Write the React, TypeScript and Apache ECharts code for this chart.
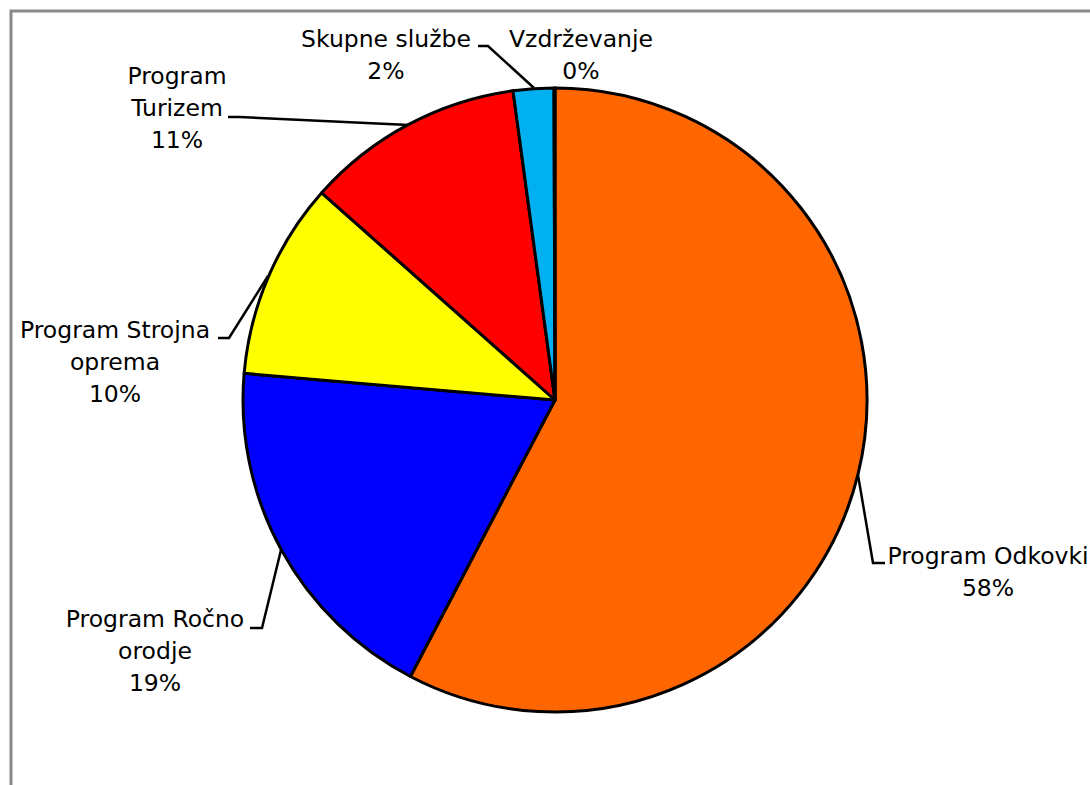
import React, { useEffect, useRef } from "react";
import * as echarts from "echarts";

const categories = [
  "Program Odkovki",
  "Program Ročno orodje",
  "Program Strojna oprema",
  "Program Turizem",
  "Skupne službe",
  "Vzdrževanje",
];
const wrappedNames = [
  "Program Odkovki",
  "Program Ročno\norodje",
  "Program Strojna\noprema",
  "Program\nTurizem",
  "Skupne službe",
  "Vzdrževanje",
];
const values = [57.7, 18.7, 10.2, 11.3, 2.1, 0.05];
const colors = ["#FF6600", "#0000FF", "#FFFF00", "#FF0000", "#00B0F0", "#9999FF"];

// label anchor positions (layout only)
const labelPos: [number, number][] = [
  [988, 572],
  [155, 651],
  [115, 362],
  [177, 108],
  [386, 55],
  [581, 55],
];
const leaderLines: ([number, number][] | null)[] = [
  [[858, 475], [873, 563], [885, 563]],
  [[281, 550], [262, 628], [250, 628]],
  [[268, 276], [229, 338], [218, 338]],
  [[409, 125], [240, 117], [228, 117]],
  [[534, 88], [488, 46], [478, 46]],
  null,
];

export default function App() {
  const ref = useRef<HTMLDivElement>(null);
  useEffect(() => {
    if (!ref.current) return;
    const chart = echarts.init(ref.current, null, { renderer: "svg" });
    const total = values.reduce((a, b) => a + b, 0);
    chart.setOption({
      animation: false,
      backgroundColor: "#ffffff",
      graphic: [
        {
          type: "rect",
          shape: { x: 11, y: 11, width: 1200, height: 900 },
          style: { fill: "none", stroke: "#898989", lineWidth: 3 },
          silent: true,
          z: -1,
        },
      ],
      series: [
        {
          type: "pie",
          center: [555, 400],
          radius: 312,
          startAngle: 90,
          clockwise: true,
          avoidLabelOverlap: false,
          itemStyle: { borderColor: "#000", borderWidth: 3 },
          label: {
            show: true,
            position: "outside",
            formatter: (p: any) =>
              "{t|" +
              wrappedNames[p.dataIndex].split("\n").join("}\n{t|") +
              "}\n{t|" +
              Math.round((p.value / total) * 100) +
              "%}",
            rich: {
              t: {
                color: "#000",
                fontFamily: "DejaVu Sans",
                fontSize: 23.5,
                lineHeight: 32,
                align: "center",
              },
            },
          },
          labelLine: {
            show: true,
            lineStyle: { color: "#000", width: 2.5 },
          },
          labelLayout: (params: any) => {
            const i = params.dataIndex;
            const res: any = {
              x: labelPos[i][0],
              y: labelPos[i][1],
              align: "center",
              verticalAlign: "middle",
            };
            if (leaderLines[i]) res.labelLinePoints = leaderLines[i];
            return res;
          },
          data: categories.map((name, i) => ({
            name,
            value: values[i],
            itemStyle: { color: colors[i] },
            labelLine: { show: leaderLines[i] !== null },
          })),
        },
      ],
    });
    return () => chart.dispose();
  }, []);
  return (
    <div
      ref={ref}
      style={{ position: "absolute", left: 0, top: 0, width: 1090, height: 785 }}
    />
  );
}
